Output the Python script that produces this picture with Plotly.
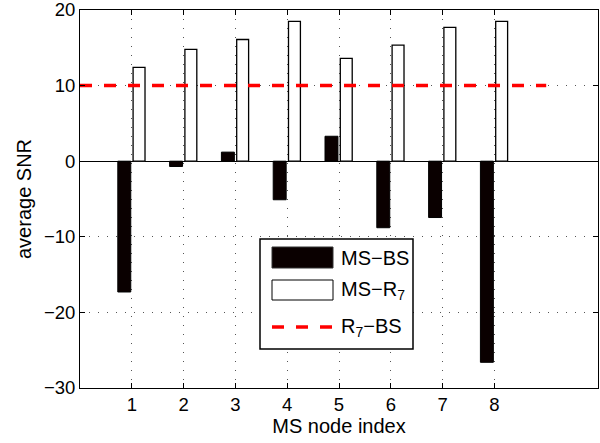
import plotly.graph_objects as go

nodes = [1, 2, 3, 4, 5, 6, 7, 8]
ms_bs = [-17.3, -0.7, 1.2, -5.1, 3.3, -8.8, -7.45, -26.6]
ms_r7 = [12.4, 14.8, 16.1, 18.5, 13.6, 15.35, 17.7, 18.5]
r7_bs_x = [0, 9]
r7_bs = [10, 10]
y_ticks = [-30, -20, -10, 0, 10, 20]

FONT = "Liberation Sans, Arial, Helvetica, sans-serif"

# plot area in pixels (for legend placement)
L, R, T, B = 80, 598, 10, 388
W, H = 600, 443


def px(xp):
    return (xp - L) / (R - L)


def py(yp):
    return (B - yp) / (B - T)


fig = go.Figure()
fig.add_trace(go.Bar(
    x=nodes, y=ms_bs, name="MS−BS", offset=-0.27, width=0.25,
    marker=dict(color="#0a0000", line=dict(color="black", width=1)),
    showlegend=False,
))
fig.add_trace(go.Bar(
    x=nodes, y=ms_r7, name="MS−R<sub>7</sub>", offset=0.025, width=0.23,
    marker=dict(color="white", line=dict(color="black", width=1.3)),
    showlegend=False,
))
fig.add_trace(go.Scatter(
    x=r7_bs_x, y=r7_bs, mode="lines", name="R<sub>7</sub>−BS",
    line=dict(color="#ff0000", width=3.5, dash="12px,12px"),
    showlegend=False,
))

shapes = []
annotations = []
# legend box
shapes.append(dict(type="rect", xref="paper", yref="paper",
                   x0=px(260), x1=px(413), y0=py(349), y1=py(239),
                   line=dict(color="black", width=1.5), fillcolor="white", layer="above"))
shapes.append(dict(type="rect", xref="paper", yref="paper",
                   x0=px(272), x1=px(333), y0=py(268), y1=py(247),
                   line=dict(color="#333", width=1), fillcolor="#0a0000", layer="above"))
shapes.append(dict(type="rect", xref="paper", yref="paper",
                   x0=px(272), x1=px(333), y0=py(300), y1=py(280),
                   line=dict(color="black", width=1), fillcolor="white", layer="above"))
shapes.append(dict(type="line", xref="paper", yref="paper",
                   x0=px(272), x1=px(333), y0=py(327), y1=py(327),
                   line=dict(color="#ff0000", width=3.5, dash="12px,12px"), layer="above"))
for txt, yy in [("MS−BS", 258), ("MS−R<sub>7</sub>", 290), ("R<sub>7</sub>−BS", 327)]:
    annotations.append(dict(xref="paper", yref="paper", x=px(339), y=py(yy),
                            xanchor="left", yanchor="middle", text=txt, showarrow=False,
                            font=dict(family=FONT, size=20, color="black")))

axis_common = dict(
    showline=True, linecolor="black", linewidth=1, mirror="ticks",
    ticks="inside", ticklen=5, tickcolor="black",
    showgrid=True, gridcolor="#555", griddash="1px,8px", gridwidth=1,
    tickfont=dict(family=FONT, size=18.5, color="black"),
    automargin=False, ticklabeloverflow="allow",
)

fig.update_layout(
    width=W, height=H,
    margin=dict(l=L, r=W - R, t=T, b=H - B),
    paper_bgcolor="white", plot_bgcolor="white",
    barmode="overlay",
    font=dict(family=FONT, color="black"),
    xaxis=dict(range=[0, 10], tickvals=nodes, zeroline=False,
               title=dict(text="MS node index", font=dict(family=FONT, size=20), standoff=2),
               **axis_common),
    yaxis=dict(range=[-30, 20], tickvals=y_ticks, zeroline=True, zerolinecolor="black",
               zerolinewidth=1,
               title=dict(text="average SNR", font=dict(family=FONT, size=20), standoff=6),
               **axis_common),
    shapes=shapes, annotations=annotations,
)

fig.write_html("out.html", config={"displayModeBar": False},
               post_script="document.body.style.margin='0';")
